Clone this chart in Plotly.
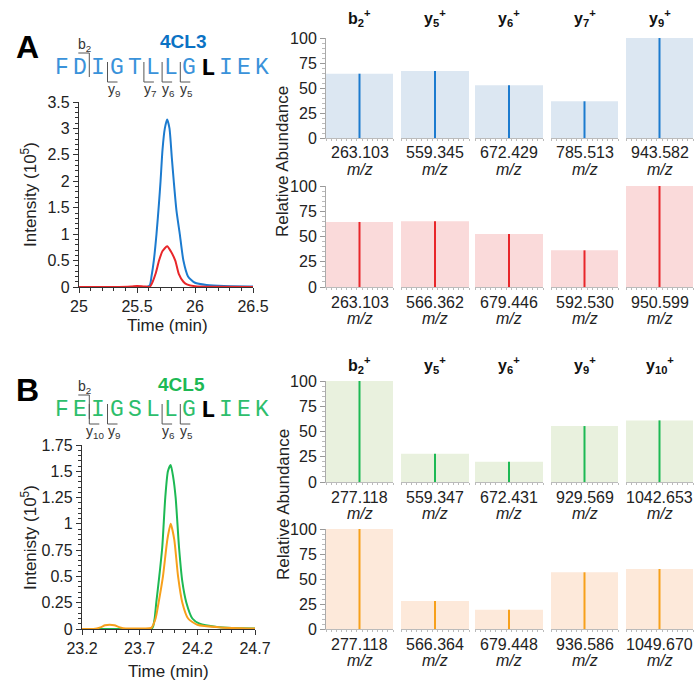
import plotly.graph_objects as go

W, H = 697, 681

# ---------------- data ----------------
a_time_blue = [25.00, 25.40, 25.58, 25.61, 25.625, 25.645, 25.668, 25.69, 25.703, 25.72, 25.74, 25.76,
               25.78, 25.80, 25.817, 25.84, 25.869, 25.90, 25.94, 26.00, 26.10, 26.25, 26.50]
a_int_blue = [0, 0, 0, 0.03, 0.2, 0.5, 1.0, 1.6, 2.0, 2.6, 3.0, 3.17,
              3.0, 2.45, 2.0, 1.45, 1.0, 0.5, 0.2, 0.08, 0.04, 0.02, 0.01]
a_time_red = [25.00, 25.30, 25.45, 25.50, 25.56, 25.61, 25.625, 25.66, 25.69, 25.72, 25.76, 25.79,
              25.83, 25.86, 25.90, 25.93, 26.00, 26.20, 26.50]
a_int_red = [0, 0, 0.01, 0.02, 0.01, 0.005, 0.05, 0.25, 0.5, 0.68, 0.77, 0.68,
             0.5, 0.25, 0.1, 0.05, 0.015, 0.005, 0]
b_time_green = [23.20, 23.60, 23.80, 23.815, 23.83, 23.844, 23.87, 23.896, 23.922, 23.945, 23.969, 23.99,
                24.012, 24.041, 24.07, 24.105, 24.157, 24.22, 24.37, 24.50, 24.70]
b_int_green = [0, 0, 0, 0.02, 0.1, 0.25, 0.5, 0.78, 1.25, 1.5, 1.56, 1.45,
               1.25, 0.78, 0.45, 0.25, 0.1, 0.05, 0.02, 0.01, 0.005]
b_time_orange = [23.20, 23.30, 23.36, 23.40, 23.44, 23.48, 23.53, 23.58, 23.70, 23.80, 23.838, 23.864,
                 23.902, 23.94, 23.969, 24.00, 24.033, 24.07, 24.12, 24.20, 24.40, 24.70]
b_int_orange = [0, 0, 0.015, 0.035, 0.04, 0.035, 0.015, 0.005, 0.005, 0.01, 0.1, 0.25,
                0.5, 0.85, 1.0, 0.85, 0.5, 0.25, 0.1, 0.04, 0.015, 0.005]

a_ions = ["b<sub>2</sub><sup>+</sup>", "y<sub>5</sub><sup>+</sup>", "y<sub>6</sub><sup>+</sup>",
          "y<sub>7</sub><sup>+</sup>", "y<sub>9</sub><sup>+</sup>"]
a_mz_light = [263.103, 559.345, 672.429, 785.513, 943.582]
a_ab_light = [64.3, 67.0, 52.7, 36.7, 100.0]
a_mz_heavy = [263.103, 566.362, 679.446, 592.530, 950.599]
a_ab_heavy = [64.4, 65.0, 52.5, 36.3, 100.0]

b_ions = ["b<sub>2</sub><sup>+</sup>", "y<sub>5</sub><sup>+</sup>", "y<sub>6</sub><sup>+</sup>",
          "y<sub>9</sub><sup>+</sup>", "y<sub>10</sub><sup>+</sup>"]
b_mz_light = [277.118, 559.347, 672.431, 929.569, 1042.653]
b_ab_light = [100.0, 28.0, 20.1, 55.4, 61.0]
b_mz_heavy = [277.118, 566.364, 679.448, 936.586, 1049.670]
b_ab_heavy = [100.0, 28.0, 19.3, 56.7, 60.0]

a_seq = "FDIGTLLGLIEK"
b_seq = "FEIGSLLGLIEK"
bold_residue = 8
a_b_frag = [2]
a_y_frag = [9, 7, 6, 5]
b_b_frag = [2]
b_y_frag = [10, 9, 6, 5]

a_chrom_xticks = [25, 25.5, 26, 26.5]
b_chrom_xticks = [23.2, 23.7, 24.2, 24.7]

# ---------------- styling ----------------
FONT = "Liberation Sans"
MONO = "Liberation Mono"
BLUE, RED, GREEN, ORANGE = "#1C7BCF", "#E8262A", "#1DB954", "#F7A01B"
FILL = {"blue": "#DCE7F2", "red": "#FADADA", "green": "#E9F1DE", "orange": "#FDE9DA"}
SEQ_BLUE, SEQ_GREEN = "#3A92DA", "#2DBE6C"
TITLE_BLUE, TITLE_GREEN = "#0B72C4", "#1DB954"


def px(x):
    return x / W


def py(y):
    return 1 - y / H


fig = go.Figure()
annotations = []
shapes = []
layout = {}

# ---------- chromatograms ----------
def chrom(idx, dom_x, dom_y, xr, xticks, yr, ydtick, yminor, traces):
    layout[f"xaxis{idx}"] = dict(domain=[px(dom_x[0]), px(dom_x[1])], range=xr, anchor=f"y{idx}",
                                 automargin=False,
                                 tickvals=xticks, ticks="outside", ticklen=5, tickcolor="#333",
                                 showline=True, linecolor="#333", linewidth=1.3, showgrid=False, zeroline=False,
                                 tickfont=dict(family=FONT, size=16, color="#222"),
                                 minor=dict(dtick=0.1, tick0=xr[0], ticks="outside", ticklen=3, tickcolor="#333"))
    layout[f"yaxis{idx}"] = dict(domain=[py(dom_y[1]), py(dom_y[0])], range=yr, anchor=f"x{idx}",
                                 automargin=False,
                                 dtick=ydtick, tick0=0, ticks="outside", ticklen=5, tickcolor="#333",
                                 showline=True, linecolor="#333", linewidth=1.3, showgrid=False, zeroline=False,
                                 tickfont=dict(family=FONT, size=16, color="#222"),
                                 minor=dict(dtick=yminor, ticks="outside", ticklen=3, tickcolor="#333"))
    for t, v, c in traces:
        fig.add_trace(go.Scatter(x=t, y=v, mode="lines", line=dict(color=c, width=2, shape="spline", smoothing=0.6),
                                 xaxis=f"x{idx}", yaxis=f"y{idx}", showlegend=False, hoverinfo="skip"))


chrom(1, (79, 253), (102, 287), [25, 26.5], a_chrom_xticks, [0, 3.5], 0.5, 0.1,
      [(a_time_blue, a_int_blue, BLUE), (a_time_red, a_int_red, RED)])
chrom(2, (82, 255), (445, 629), [23.2, 24.7], b_chrom_xticks, [0, 1.75], 0.25, 0.05,
      [(b_time_green, b_int_green, GREEN), (b_time_orange, b_int_orange, ORANGE)])

# ---------- spectra ----------
COLS = [(326, 393), (401, 469), (475, 543), (551, 618), (626, 693)]
HALF = 0.65
rows = [
    dict(top=38, bot=138, mz=a_mz_light, ab=a_ab_light, col=BLUE, fill=FILL["blue"], ions=a_ions, ion_y=18),
    dict(top=186, bot=287, mz=a_mz_heavy, ab=a_ab_heavy, col=RED, fill=FILL["red"], ions=None),
    dict(top=381, bot=482, mz=b_mz_light, ab=b_ab_light, col=GREEN, fill=FILL["green"], ions=b_ions, ion_y=365),
    dict(top=529, bot=629, mz=b_mz_heavy, ab=b_ab_heavy, col=ORANGE, fill=FILL["orange"], ions=None),
]
k = 3
for r in rows:
    for c, (x0, x1) in enumerate(COLS):
        mz, ab = r["mz"][c], r["ab"][c]
        layout[f"xaxis{k}"] = dict(domain=[px(x0), px(x1)], range=[mz - HALF, mz + HALF], anchor=f"y{k}",
                                   automargin=False,
                                   showline=True, linecolor="#BBBBBB", linewidth=1, showgrid=False, zeroline=False,
                                   tickmode="linear", tick0=mz - HALF, dtick=0.1, ticks="outside", ticklen=2,
                                   tickcolor="#BBBBBB", showticklabels=False)
        if c == 0:
            layout[f"yaxis{k}"] = dict(domain=[py(r["bot"]), py(r["top"])], range=[0, 100], anchor=f"x{k}",
                                       automargin=False,
                                       tickvals=[0, 25, 50, 75, 100], ticks="outside", ticklen=5,
                                       tickcolor="#999999", showline=True, linecolor="#AAAAAA", linewidth=1,
                                       showgrid=False, zeroline=False,
                                       tickfont=dict(family=FONT, size=16, color="#222"),
                                       minor=dict(dtick=5, ticks="outside", ticklen=3, tickcolor="#BBBBBB"))
        else:
            layout[f"yaxis{k}"] = dict(domain=[py(r["bot"]), py(r["top"])], range=[0, 100], anchor=f"x{k}",
                                       automargin=False, visible=False)
        fig.add_trace(go.Bar(x=[mz], y=[ab], width=[2 * HALF], marker=dict(color=r["fill"], line=dict(width=0)),
                             xaxis=f"x{k}", yaxis=f"y{k}", showlegend=False, hoverinfo="skip"))
        fig.add_trace(go.Scatter(x=[mz, mz], y=[0, ab], mode="lines", line=dict(color=r["col"], width=2),
                                 xaxis=f"x{k}", yaxis=f"y{k}", showlegend=False, hoverinfo="skip"))
        annotations.append(dict(x=mz, xref=f"x{k}", y=py(r["bot"] + 15), yref="paper", text=f"{mz:.3f}",
                                xanchor="center", yanchor="middle",
                                showarrow=False, font=dict(family=FONT, size=16, color="#222")))
        annotations.append(dict(x=mz, xref=f"x{k}", y=py(r["bot"] + 31), yref="paper", text="<i>m/z</i>",
                                xanchor="center", yanchor="middle",
                                showarrow=False, font=dict(family=FONT, size=16, color="#222")))
        if r["ions"]:
            annotations.append(dict(x=mz, xref=f"x{k}", y=py(r["ion_y"]), yref="paper",
                                    xanchor="center", yanchor="middle",
                                    text=f"<b>{r['ions'][c]}</b>", showarrow=False,
                                    font=dict(family=FONT, size=16, color="#111")))
        k += 1

# ---------- texts ----------
def text(x, y, t, size, color="#222", bold=False, angle=0, family=FONT):
    annotations.append(dict(x=px(x), y=py(y), xref="paper", yref="paper", text=f"<b>{t}</b>" if bold else t,
                            showarrow=False, textangle=angle, font=dict(family=family, size=size, color=color),
                            xanchor="center", yanchor="middle"))


text(28, 47, "A", 32, "#000", bold=True)
text(28, 390, "B", 32, "#000", bold=True)
text(183, 41, "4CL3", 19, TITLE_BLUE, bold=True)
text(181, 384, "4CL5", 19, TITLE_GREEN, bold=True)
text(29, 194, "Intensity (10<sup>5</sup>)", 17, angle=-90)
text(29, 537, "Intenisty (10<sup>5</sup>)", 17, angle=-90)
text(167, 326, "Time (min)", 17)
text(168, 671, "Time (min)", 17)
text(283, 162, "Relative Abundance", 17, angle=-90)
text(283, 505, "Relative Abundance", 17, angle=-90)

# ---------- peptide sequences with fragment brackets ----------
def line(x0, y0, x1, y1):
    shapes.append(dict(type="line", xref="paper", yref="paper", x0=px(x0), y0=py(y0), x1=px(x1), y1=py(y1),
                       line=dict(color="#555", width=1)))


def peptide(seq, yc, color, b_frag, y_frag):
    x_start, step = 62, 18.2
    n = len(seq)
    for i, ch in enumerate(seq):
        if i == bold_residue:
            text(x_start + step * i, yc, ch, 24, "#000", bold=True, family=MONO)
        else:
            text(x_start + step * i, yc, ch, 23, color, family=MONO)
    for b in b_frag:
        xb = x_start + step * (b - 1) + step / 2
        line(xb, yc - 15, xb, yc + 9)
        line(xb - 11, yc - 15, xb, yc - 15)
        text(xb - 5, yc - 23, f"b<sub>{b}</sub>", 14, "#333")
    for yv in y_frag:
        xb = x_start + step * (n - yv - 1) + step / 2
        line(xb, yc - 6, xb, yc + 14)
        line(xb, yc + 14, xb + 10, yc + 14)
        text(xb + 6, yc + 22, f"y<sub>{yv}</sub>", 14, "#333")


peptide(a_seq, 68, SEQ_BLUE, a_b_frag, a_y_frag)
peptide(b_seq, 410, SEQ_GREEN, b_b_frag, b_y_frag)

fig.update_layout(width=W, height=H, margin=dict(l=0, r=0, t=0, b=0), plot_bgcolor="white",
                  paper_bgcolor="white", showlegend=False, annotations=annotations, shapes=shapes,
                  barmode="overlay", hovermode=False, **layout)
fig.write_html("out.html", config={"displayModeBar": False},
               post_script="document.body.style.margin='0';document.body.style.overflow='hidden';")
